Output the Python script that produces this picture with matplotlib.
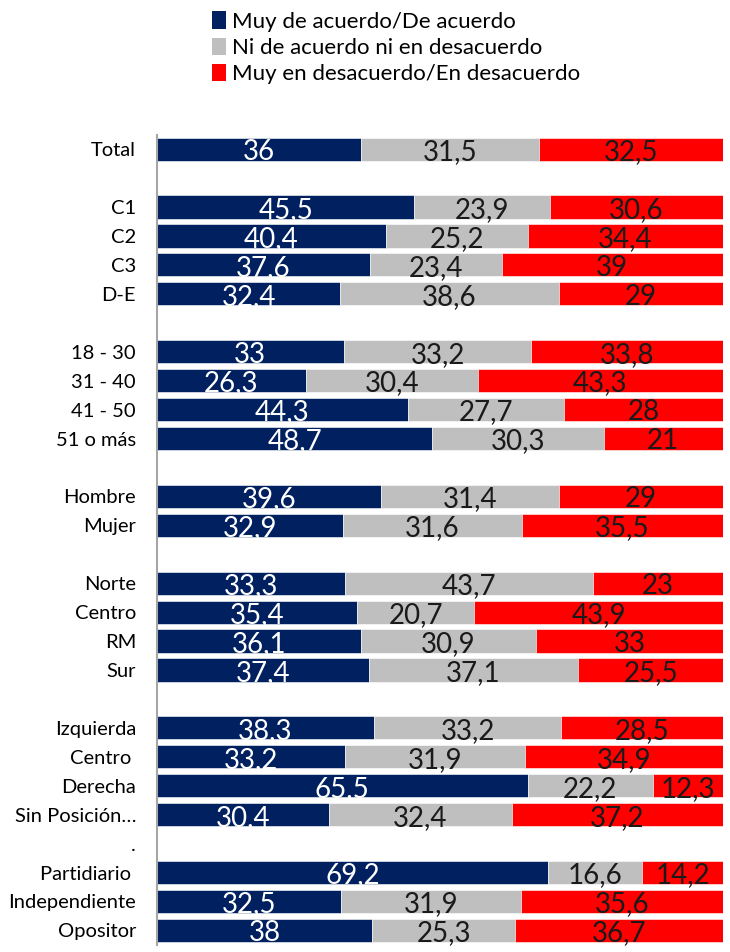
import matplotlib.pyplot as plt
from matplotlib.patches import Patch
import numpy as np

plt.rcParams['font.family'] = ['Lato', 'DejaVu Sans']

# rows from top to bottom; empty strings are gaps between groups
labels = ["Total", "", "C1", "C2", "C3", "D-E", "",
          "18 - 30", "31 - 40", "41 - 50", "51 o más", "",
          "Hombre", "Mujer", "",
          "Norte", "Centro", "RM", "Sur", "",
          "Izquierda", "Centro ", "Derecha", "Sin Posición…", ".",
          "Partidiario ", "Independiente", "Opositor"]

acuerdo = [36, None, 45.5, 40.4, 37.6, 32.4, None,
           33, 26.3, 44.3, 48.7, None,
           39.6, 32.9, None,
           33.3, 35.4, 36.1, 37.4, None,
           38.3, 33.2, 65.5, 30.4, None,
           69.2, 32.5, 38]
neutral = [31.5, None, 23.9, 25.2, 23.4, 38.6, None,
           33.2, 30.4, 27.7, 30.3, None,
           31.4, 31.6, None,
           43.7, 20.7, 30.9, 37.1, None,
           33.2, 31.9, 22.2, 32.4, None,
           16.6, 31.9, 25.3]
desacuerdo = [32.5, None, 30.6, 34.4, 39, 29, None,
              33.8, 43.3, 28, 21, None,
              29, 35.5, None,
              23, 43.9, 33, 25.5, None,
              28.5, 34.9, 12.3, 37.2, None,
              14.2, 35.6, 36.7]

series = ["Muy de acuerdo/De acuerdo", "Ni de acuerdo ni en desacuerdo",
          "Muy en desacuerdo/En desacuerdo"]
colors = ["#002060", "#BFBFBF", "#FF0000"]
text_colors = ["white", "#1a1a1a", "#1a1a1a"]


def fmt(v):
    return ("%g" % v).replace(".", ",")


fig = plt.figure(figsize=(7.30, 9.52), dpi=100)
ax = fig.add_axes([0.215, 0.0075, 0.775, 0.851])

y = np.arange(len(labels))
for i in range(len(labels)):
    if acuerdo[i] is None:
        continue
    left = 0
    for j, v in enumerate([acuerdo[i], neutral[i], desacuerdo[i]]):
        ax.barh(y[i], v, left=left, height=0.8, color=colors[j],
                edgecolor="white", linewidth=0.4)
        ax.text(left + v / 2, y[i] + 0.1, fmt(v), ha="center", va="center",
                fontsize=20, color=text_colors[j])
        left += v

ax.set_xlim(0, 100)
ax.set_ylim(len(labels) - 0.5, -0.5)
ax.set_yticks(y)
ax.set_yticklabels(labels, fontsize=14.5)
ax.tick_params(axis="y", length=0, pad=15)
ax.set_xticks([])
for s in ["top", "right", "bottom"]:
    ax.spines[s].set_visible(False)
ax.spines["left"].set_color("#A6A6A6")
ax.spines["left"].set_linewidth(1.5)

handles = [Patch(facecolor=c, label=s) for c, s in zip(colors, series)]
fig.legend(handles=handles, loc="upper left", bbox_to_anchor=(0.263, 1.009),
           frameon=False, fontsize=16, handlelength=0.65, handleheight=0.85,
           handletextpad=0.25, labelspacing=0.25)

fig.savefig("out.png", dpi=100)
